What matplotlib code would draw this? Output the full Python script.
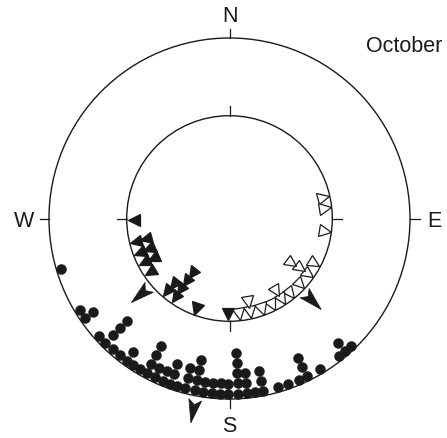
import numpy as np
import matplotlib
matplotlib.use("Agg")
import matplotlib.pyplot as plt
from matplotlib.markers import MarkerStyle
from matplotlib.transforms import Affine2D
from matplotlib.patches import Circle, Polygon

plt.rcParams['font.family'] = ['Liberation Sans', 'DejaVu Sans']

# ---------------- data (bearings in degrees, clockwise from N) ----------------
dot_bearings = [136.4, 138.9, 141.5, 148.8, 153.9, 156.8, 160.5, 164.0, 169.0,
                171.7, 174.2, 177.1, 180.4, 183.1, 185.8, 188.6, 191.5, 194.6,
                197.3, 199.8, 202.2, 205.2, 208.2, 210.7, 213.2, 215.9, 218.7,
                221.8, 225.0, 227.8, 235.5, 238.6, 253.4]
dot_counts = [1, 2, 1, 1, 3, 1, 1, 1, 3,
              1, 3, 5, 2, 2, 2, 2, 4, 3,
              1, 3, 2, 2, 4, 1, 1, 2, 1,
              1, 4, 1, 2, 1, 1]

filled_tri_bearings = [181.0, 200.3, 214.8, 220.5, 236.0, 243.0, 249.0, 256.0, 269.0]
filled_tri_counts = [1, 1, 4, 2, 1, 2, 2, 2, 1]

open_tri_bearings = [77.0, 84.0, 97.4, 117.8, 125.5, 132.9, 140.7, 147.0,
                     153.7, 160.4, 167.5, 174.2]
open_tri_counts = [1, 1, 1, 1, 3, 1, 1, 2, 1, 1, 2, 1]

outer_mean_bearings = [190.7]
inner_mean_bearings = [229.4, 134.8]

cardinal_labels = ['N', 'E', 'S', 'W']
cardinal_bearings = [0, 90, 180, 270]
month_label = 'October'

# ---------------- layout ----------------
W, H = 447, 439
fig = plt.figure(figsize=(W / 100, H / 100), dpi=100)
ax = fig.add_axes([0, 0, 1, 1])
ax.set_xlim(0, W)
ax.set_ylim(H, 0)
ax.set_aspect('equal')
ax.axis('off')

INK = '#1a1a1a'
CX, CY = 229.5, 219.5
R_OUT, R_IN = 180.5, 102.8
TICK = 9.5
DOT_R0, DOT_STEP = 175.5, 10.3
TRI_R0, TRI_STEP = 96.0, 10.0


def pol(b, r):
    t = np.deg2rad(b)
    return CX + r * np.sin(t), CY - r * np.cos(t)


for R in (R_OUT, R_IN):
    ax.add_patch(Circle((CX, CY), R, fill=False, lw=1.0, ec=INK, zorder=2))
    for b in cardinal_bearings:
        x0, y0 = pol(b, R)
        x1, y1 = pol(b, R + TICK)
        ax.plot([x0, x1], [y0, y1], color=INK, lw=0.9, zorder=2)

for lab, b in zip(cardinal_labels, cardinal_bearings):
    x, y = pol(b, 205)
    ax.text(x, y, lab, ha='center', va='center_baseline', fontsize=15.5,
            color=INK)

ax.text(404, 47, month_label, ha='center', va='center', fontsize=15.5,
        color=INK)

# stacked dots on outer circle
xs, ys = [], []
for b, n in zip(dot_bearings, dot_counts):
    for k in range(n):
        x, y = pol(b, DOT_R0 - k * DOT_STEP)
        xs.append(x)
        ys.append(y)
ax.plot(xs, ys, 'o', ms=7.2, color=INK, mec=INK, mew=0.3, ls='none', zorder=3)


def draw_tris(bearings, counts, filled):
    for b, n in zip(bearings, counts):
        m = MarkerStyle('^', transform=Affine2D().rotate_deg(-b))
        for k in range(n):
            x, y = pol(b, TRI_R0 - k * TRI_STEP)
            ax.plot([x], [y], marker=m, ms=8.6, ls='none',
                    mfc=INK if filled else 'white', mec=INK, mew=0.9,
                    zorder=3)


draw_tris(filled_tri_bearings, filled_tri_counts, True)
draw_tris(open_tri_bearings, open_tri_counts, False)


def dart(b, r_back, length, half_w=6.5, notch=5.0):
    t = np.deg2rad(b)
    u = np.array([np.sin(t), -np.cos(t)])
    v = np.array([np.cos(t), np.sin(t)])
    c = np.array([CX, CY])
    back = c + u * r_back
    pts = [back + v * half_w,
           c + u * (r_back + notch),
           back - v * half_w,
           c + u * (r_back + length)]
    ax.add_patch(Polygon(pts, closed=True, fc=INK, ec=INK, lw=0.5, zorder=4))


for b in outer_mean_bearings:
    dart(b, R_OUT + 4.0, 23.5)
for b in inner_mean_bearings:
    dart(b, R_IN + 3.0, 23.5)

fig.savefig('out.png', dpi=100)
